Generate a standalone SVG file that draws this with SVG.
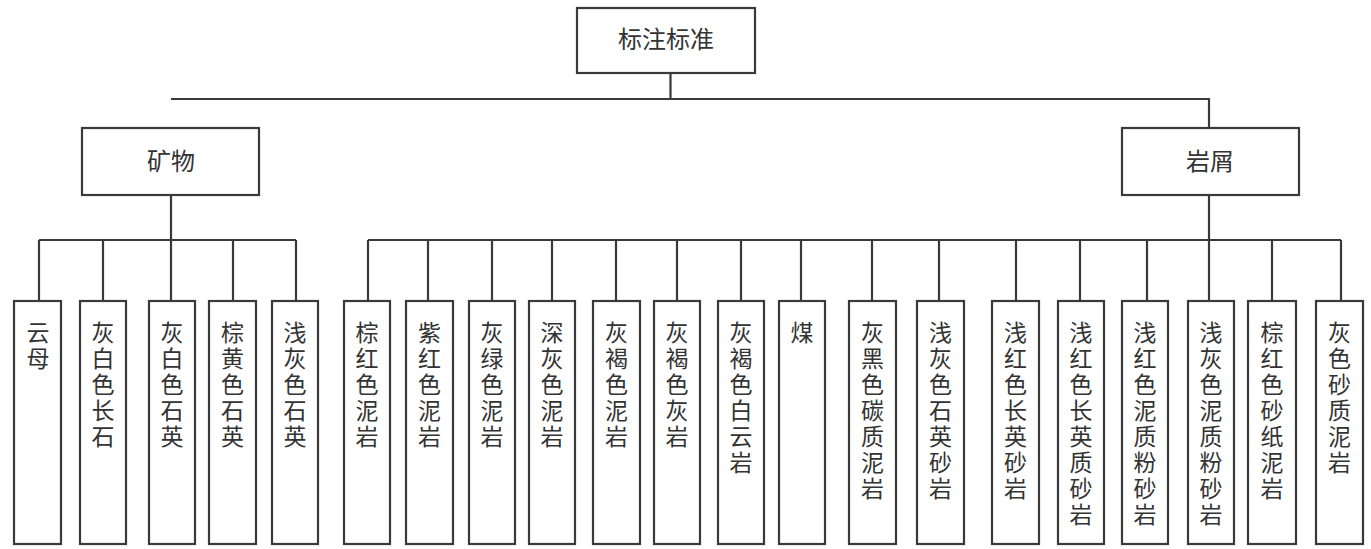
<svg xmlns="http://www.w3.org/2000/svg" width="1371" height="549" viewBox="0 0 1371 549">
<style>
.box{fill:#fff;stroke:#3a3a3a;stroke-width:2.2}
.ln{fill:none;stroke:#3a3a3a;stroke-width:2.2}
.t{font-family:"Noto Sans CJK SC","Noto Sans",sans-serif;font-size:23px;fill:#333;text-anchor:middle}
.h{font-size:24px}
</style>
<rect width="1371" height="549" fill="#fff"/>
<g id="connectors">
<path class="ln" d="M670.5 73V99M171 99H1209V128M171 195V240M1209 195V240M39 240H296M39 240V301M103 240V301M171 240V301M233 240V301M296 240V301M368 240H1341M368 240V301M428 240V301M492 240V301M552 240V301M616 240V301M677 240V301M741 240V301M801 240V301M872 240V301M939 240V301M1016 240V301M1080 240V301M1147 240V301M1209 240V301M1272 240V301M1341 240V301"/>
</g>
<g id="root"><rect class="box" x="577" y="8" width="178" height="65"/><text class="t h" x="666" y="48">标注标准</text></g>
<g id="kuangwu"><rect class="box" x="82" y="128" width="177" height="67"/><text class="t h" x="171" y="170">矿物</text></g>
<g id="yanxie"><rect class="box" x="1122" y="128" width="177" height="67"/><text class="t h" x="1210" y="170">岩屑</text></g>
<g id="n1"><rect class="box" x="14" y="301" width="47" height="243"/><text class="t" x="38" y="341"><tspan x="38">云</tspan><tspan x="38" dy="26">母</tspan></text></g>
<g id="n2"><rect class="box" x="80" y="301" width="46" height="243"/><text class="t" x="103" y="341"><tspan x="103">灰</tspan><tspan x="103" dy="26">白</tspan><tspan x="103" dy="26">色</tspan><tspan x="103" dy="26">长</tspan><tspan x="103" dy="26">石</tspan></text></g>
<g id="n3"><rect class="box" x="149" y="301" width="46" height="243"/><text class="t" x="172" y="341"><tspan x="172">灰</tspan><tspan x="172" dy="26">白</tspan><tspan x="172" dy="26">色</tspan><tspan x="172" dy="26">石</tspan><tspan x="172" dy="26">英</tspan></text></g>
<g id="n4"><rect class="box" x="209" y="301" width="47" height="243"/><text class="t" x="232.5" y="341"><tspan x="232.5">棕</tspan><tspan x="232.5" dy="26">黄</tspan><tspan x="232.5" dy="26">色</tspan><tspan x="232.5" dy="26">石</tspan><tspan x="232.5" dy="26">英</tspan></text></g>
<g id="n5"><rect class="box" x="272" y="301" width="46" height="243"/><text class="t" x="295" y="341"><tspan x="295">浅</tspan><tspan x="295" dy="26">灰</tspan><tspan x="295" dy="26">色</tspan><tspan x="295" dy="26">石</tspan><tspan x="295" dy="26">英</tspan></text></g>
<g id="n6"><rect class="box" x="344" y="301" width="46" height="243"/><text class="t" x="367" y="341"><tspan x="367">棕</tspan><tspan x="367" dy="26">红</tspan><tspan x="367" dy="26">色</tspan><tspan x="367" dy="26">泥</tspan><tspan x="367" dy="26">岩</tspan></text></g>
<g id="n7"><rect class="box" x="406" y="301" width="47" height="243"/><text class="t" x="429.5" y="341"><tspan x="429.5">紫</tspan><tspan x="429.5" dy="26">红</tspan><tspan x="429.5" dy="26">色</tspan><tspan x="429.5" dy="26">泥</tspan><tspan x="429.5" dy="26">岩</tspan></text></g>
<g id="n8"><rect class="box" x="469" y="301" width="46" height="243"/><text class="t" x="492" y="341"><tspan x="492">灰</tspan><tspan x="492" dy="26">绿</tspan><tspan x="492" dy="26">色</tspan><tspan x="492" dy="26">泥</tspan><tspan x="492" dy="26">岩</tspan></text></g>
<g id="n9"><rect class="box" x="529" y="301" width="46" height="243"/><text class="t" x="552" y="341"><tspan x="552">深</tspan><tspan x="552" dy="26">灰</tspan><tspan x="552" dy="26">色</tspan><tspan x="552" dy="26">泥</tspan><tspan x="552" dy="26">岩</tspan></text></g>
<g id="n10"><rect class="box" x="593" y="301" width="47" height="243"/><text class="t" x="616.5" y="341"><tspan x="616.5">灰</tspan><tspan x="616.5" dy="26">褐</tspan><tspan x="616.5" dy="26">色</tspan><tspan x="616.5" dy="26">泥</tspan><tspan x="616.5" dy="26">岩</tspan></text></g>
<g id="n11"><rect class="box" x="654" y="301" width="46" height="243"/><text class="t" x="677" y="341"><tspan x="677">灰</tspan><tspan x="677" dy="26">褐</tspan><tspan x="677" dy="26">色</tspan><tspan x="677" dy="26">灰</tspan><tspan x="677" dy="26">岩</tspan></text></g>
<g id="n12"><rect class="box" x="718" y="301" width="46" height="243"/><text class="t" x="741" y="341"><tspan x="741">灰</tspan><tspan x="741" dy="26">褐</tspan><tspan x="741" dy="26">色</tspan><tspan x="741" dy="26">白</tspan><tspan x="741" dy="26">云</tspan><tspan x="741" dy="26">岩</tspan></text></g>
<g id="n13"><rect class="box" x="779" y="301" width="46" height="243"/><text class="t" x="802" y="341">煤</text></g>
<g id="n14"><rect class="box" x="849" y="301" width="47" height="243"/><text class="t" x="872.5" y="341"><tspan x="872.5">灰</tspan><tspan x="872.5" dy="26">黑</tspan><tspan x="872.5" dy="26">色</tspan><tspan x="872.5" dy="26">碳</tspan><tspan x="872.5" dy="26">质</tspan><tspan x="872.5" dy="26">泥</tspan><tspan x="872.5" dy="26">岩</tspan></text></g>
<g id="n15"><rect class="box" x="917" y="301" width="47" height="243"/><text class="t" x="940.5" y="341"><tspan x="940.5">浅</tspan><tspan x="940.5" dy="26">灰</tspan><tspan x="940.5" dy="26">色</tspan><tspan x="940.5" dy="26">石</tspan><tspan x="940.5" dy="26">英</tspan><tspan x="940.5" dy="26">砂</tspan><tspan x="940.5" dy="26">岩</tspan></text></g>
<g id="n16"><rect class="box" x="992" y="301" width="47" height="243"/><text class="t" x="1015.5" y="341"><tspan x="1015.5">浅</tspan><tspan x="1015.5" dy="26">红</tspan><tspan x="1015.5" dy="26">色</tspan><tspan x="1015.5" dy="26">长</tspan><tspan x="1015.5" dy="26">英</tspan><tspan x="1015.5" dy="26">砂</tspan><tspan x="1015.5" dy="26">岩</tspan></text></g>
<g id="n17"><rect class="box" x="1058" y="301" width="46" height="243"/><text class="t" x="1081" y="341"><tspan x="1081">浅</tspan><tspan x="1081" dy="26">红</tspan><tspan x="1081" dy="26">色</tspan><tspan x="1081" dy="26">长</tspan><tspan x="1081" dy="26">英</tspan><tspan x="1081" dy="26">质</tspan><tspan x="1081" dy="26">砂</tspan><tspan x="1081" dy="26">岩</tspan></text></g>
<g id="n18"><rect class="box" x="1122" y="301" width="46" height="243"/><text class="t" x="1145" y="341"><tspan x="1145">浅</tspan><tspan x="1145" dy="26">红</tspan><tspan x="1145" dy="26">色</tspan><tspan x="1145" dy="26">泥</tspan><tspan x="1145" dy="26">质</tspan><tspan x="1145" dy="26">粉</tspan><tspan x="1145" dy="26">砂</tspan><tspan x="1145" dy="26">岩</tspan></text></g>
<g id="n19"><rect class="box" x="1188" y="301" width="46" height="243"/><text class="t" x="1211" y="341"><tspan x="1211">浅</tspan><tspan x="1211" dy="26">灰</tspan><tspan x="1211" dy="26">色</tspan><tspan x="1211" dy="26">泥</tspan><tspan x="1211" dy="26">质</tspan><tspan x="1211" dy="26">粉</tspan><tspan x="1211" dy="26">砂</tspan><tspan x="1211" dy="26">岩</tspan></text></g>
<g id="n20"><rect class="box" x="1248" y="301" width="48" height="243"/><text class="t" x="1272" y="341"><tspan x="1272">棕</tspan><tspan x="1272" dy="26">红</tspan><tspan x="1272" dy="26">色</tspan><tspan x="1272" dy="26">砂</tspan><tspan x="1272" dy="26">纸</tspan><tspan x="1272" dy="26">泥</tspan><tspan x="1272" dy="26">岩</tspan></text></g>
<g id="n21"><rect class="box" x="1316" y="301" width="47" height="243"/><text class="t" x="1339.5" y="341"><tspan x="1339.5">灰</tspan><tspan x="1339.5" dy="26">色</tspan><tspan x="1339.5" dy="26">砂</tspan><tspan x="1339.5" dy="26">质</tspan><tspan x="1339.5" dy="26">泥</tspan><tspan x="1339.5" dy="26">岩</tspan></text></g>
</svg>
